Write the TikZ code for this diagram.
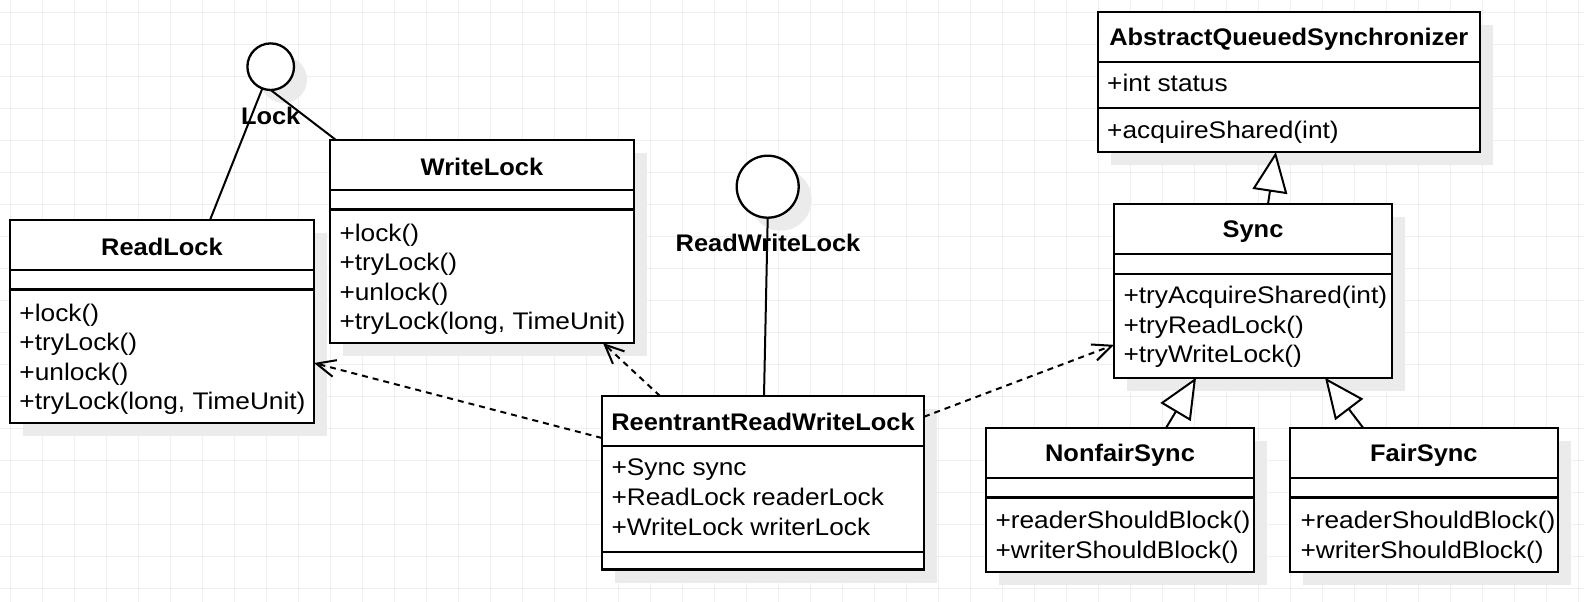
\documentclass[tikz,border=0pt]{standalone}
\usepackage{fontspec}
\setmainfont{Liberation Sans}[FakeStretch=1.095]
\newfontfamily\titlefont{Liberation Sans}[FakeStretch=1.06]
\usetikzlibrary{arrows.meta}
\definecolor{shadowgray}{HTML}{EBEBEB}
\definecolor{gridgray}{HTML}{EFEFEF}
\begin{document}
\begin{tikzpicture}[x=1pt,y=-1pt,
  every node/.style={font=\fontsize{24}{29.5}\selectfont, inner sep=0pt, outer sep=0pt},
  shadowed/.style={preaction={draw=none, fill=shadowgray, transform canvas={xshift=13pt, yshift=-13pt}}},
  cls/.style={draw, line width=2.3pt, fill=white, anchor=north west, shadowed},
  iface/.style={draw, circle, line width=2.3pt, fill=white, shadowed},
  title/.style={anchor=base, font=\fontsize{24}{29.5}\selectfont\titlefont\bfseries},
  mem/.style={anchor=base west},
  sepline/.style={line width=2.3pt},
  assoc/.style={line width=2pt},
  dep/.style={line width=2pt, dash pattern=on 6pt off 5pt, -{Straight Barb[length=19pt, width=17pt]}},
  gen/.style={line width=2pt, -{Triangle[length=40pt, width=35pt, fill=white]}},
  gridline/.style={gridgray, line width=1pt}
]
\useasboundingbox (0,0) rectangle (1584,602);
\fill[white] (0,0) rectangle (1584,602);
\foreach \x in {0,...,49} \draw[gridline] (10.7+32*\x,0) -- (10.7+32*\x,602);
\foreach \y in {0,...,18} \draw[gridline] (0,12.7+32*\y) -- (1584,12.7+32*\y);

% ---------- interfaces ----------
\node[iface, minimum size=46.6pt] (lock) at (270.7,66.7) {};
\node[title] (lock-t) at (270.7,124.6) {Lock};
\node[iface, minimum size=62pt] (rwl) at (767.7,186.7) {};
\node[title] (rwl-t) at (768,251.9) {ReadWriteLock};

% ---------- ReadLock ----------
\node[cls, minimum width=304pt, minimum height=203pt] (readlock) at (10,220) {};
\draw[sepline] ([yshift=-50pt]readlock.north west) -- ([yshift=-50pt]readlock.north east);
\draw[sepline] ([yshift=-69.5pt]readlock.north west) -- ([yshift=-69.5pt]readlock.north east);
\node[title] (readlock-t) at ([yshift=-35pt]readlock.north) {ReadLock};
\foreach \t [count=\i from 0, evaluate=\i as \yy using -101.6-29.2*\i] in {+lock(), +tryLock(), +unlock(), {+tryLock(long, TimeUnit)}}
  \node[mem] (readlock-m\i) at ([xshift=9.5pt, yshift=\yy pt]readlock.north west) {\t};

% ---------- WriteLock ----------
\node[cls, minimum width=304pt, minimum height=203pt] (writelock) at (330,140) {};
\draw[sepline] ([yshift=-50pt]writelock.north west) -- ([yshift=-50pt]writelock.north east);
\draw[sepline] ([yshift=-69.5pt]writelock.north west) -- ([yshift=-69.5pt]writelock.north east);
\node[title] (writelock-t) at ([yshift=-35pt]writelock.north) {WriteLock};
\foreach \t [count=\i from 0, evaluate=\i as \yy using -101.6-29.2*\i] in {+lock(), +tryLock(), +unlock(), {+tryLock(long, TimeUnit)}}
  \node[mem] (writelock-m\i) at ([xshift=9.5pt, yshift=\yy pt]writelock.north west) {\t};

% ---------- ReentrantReadWriteLock ----------
\node[cls, minimum width=322pt, minimum height=173.5pt] (rrwl) at (602,396) {};
\draw[sepline] ([yshift=-50pt]rrwl.north west) -- ([yshift=-50pt]rrwl.north east);
\draw[sepline] ([yshift=-155.7pt]rrwl.north west) -- ([yshift=-155.7pt]rrwl.north east);
\node[title] (rrwl-t) at ([yshift=-34.3pt]rrwl.north) {ReentrantReadWriteLock};
\foreach \t [count=\i from 0, evaluate=\i as \yy using -79.9-29.7*\i] in {+Sync sync, +ReadLock readerLock, +WriteLock writerLock}
  \node[mem] (rrwl-a\i) at ([xshift=9.5pt, yshift=\yy pt]rrwl.north west) {\t};

% ---------- AbstractQueuedSynchronizer ----------
\node[cls, minimum width=382.3pt, minimum height=140pt] (aqs) at (1097.7,12) {};
\draw[sepline] ([yshift=-49.7pt]aqs.north west) -- ([yshift=-49.7pt]aqs.north east);
\draw[sepline] ([yshift=-96.3pt]aqs.north west) -- ([yshift=-96.3pt]aqs.north east);
\node[title] (aqs-t) at ([yshift=-33.3pt]aqs.north) {AbstractQueuedSynchronizer};
\node[mem] (aqs-a0) at ([xshift=9.5pt, yshift=-79.9pt]aqs.north west) {+int status};
\node[mem] (aqs-m0) at ([xshift=9.5pt, yshift=-126.6pt]aqs.north west) {+acquireShared(int)};

% ---------- Sync ----------
\node[cls, minimum width=278pt, minimum height=173.7pt] (sync) at (1114,204) {};
\draw[sepline] ([yshift=-50pt]sync.north west) -- ([yshift=-50pt]sync.north east);
\draw[sepline] ([yshift=-70pt]sync.north west) -- ([yshift=-70pt]sync.north east);
\node[title] (sync-t) at ([yshift=-33.9pt]sync.north) {Sync};
\foreach \t [count=\i from 0, evaluate=\i as \yy using -99.8-29.5*\i] in {+tryAcquireShared(int), +tryReadLock(), +tryWriteLock()}
  \node[mem] (sync-m\i) at ([xshift=9.5pt, yshift=\yy pt]sync.north west) {\t};

% ---------- NonfairSync ----------
\node[cls, minimum width=268pt, minimum height=143.7pt] (nonfair) at (986,428) {};
\draw[sepline] ([yshift=-50pt]nonfair.north west) -- ([yshift=-50pt]nonfair.north east);
\draw[sepline] ([yshift=-69.5pt]nonfair.north west) -- ([yshift=-69.5pt]nonfair.north east);
\node[title] (nonfair-t) at ([yshift=-33.9pt]nonfair.north) {NonfairSync};
\foreach \t [count=\i from 0, evaluate=\i as \yy using -100.6-30*\i] in {+readerShouldBlock(), +writerShouldBlock()}
  \node[mem] (nonfair-m\i) at ([xshift=9.5pt, yshift=\yy pt]nonfair.north west) {\t};

% ---------- FairSync ----------
\node[cls, minimum width=267.7pt, minimum height=143.7pt] (fair) at (1290,428) {};
\draw[sepline] ([yshift=-50pt]fair.north west) -- ([yshift=-50pt]fair.north east);
\draw[sepline] ([yshift=-69.5pt]fair.north west) -- ([yshift=-69.5pt]fair.north east);
\node[title] (fair-t) at ([yshift=-33.9pt]fair.north) {FairSync};
\foreach \t [count=\i from 0, evaluate=\i as \yy using -100.6-30*\i] in {+readerShouldBlock(), +writerShouldBlock()}
  \node[mem] (fair-m\i) at ([xshift=10.5pt, yshift=\yy pt]fair.north west) {\t};

% ---------- connectors ----------
\draw[assoc] (lock.249) -- ([xshift=48pt]readlock.north);
\draw[assoc] (lock.south) -- ([xshift=6pt]writelock.north west);
\draw[assoc] (rwl.south) -- ([xshift=1pt]rrwl.north);

\draw[dep] ([yshift=44.75pt]rrwl.west) -- ([yshift=-41.5pt]readlock.east);
\draw[dep] ([xshift=-103pt]rrwl.north) -- ([xshift=121pt]writelock.south);
\draw[dep] ([yshift=66pt]rrwl.east) -- ([yshift=-54pt]sync.west);

\draw[gen] ([xshift=15pt]sync.north) -- ([xshift=-13pt]aqs.south);
\draw[gen] ([xshift=46pt]nonfair.north) -- ([xshift=-57pt]sync.south);
\draw[gen] ([xshift=-60.6pt]fair.north) -- ([xshift=72pt]sync.south);
\end{tikzpicture}
\end{document}
